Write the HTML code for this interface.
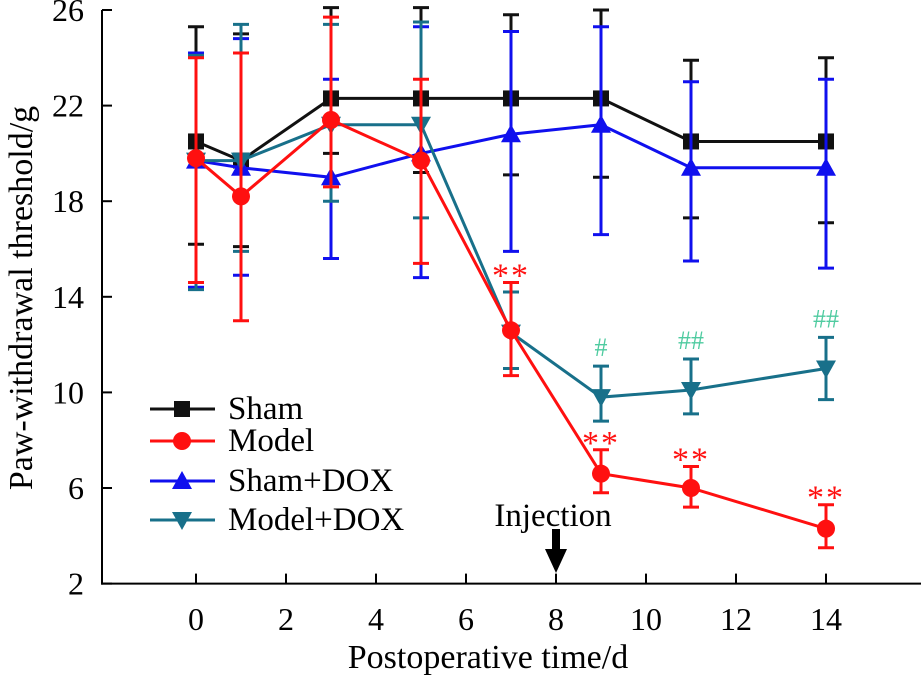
<!DOCTYPE html>
<html><head><meta charset="utf-8"><style>
body{margin:0;background:#fff}
svg{display:block;font-family:"Liberation Serif",serif}
</style></head><body>
<svg id="chart" width="921" height="676">
<g id="axes"></g><g id="series"></g><g id="legend"></g>
</svg>
<script>
const days=[0,1,3,5,7,9,11,14];
const yTicks=[2,6,10,14,18,22,26];
const xTicks=[0,2,4,6,8,10,12,14];
const shamVals=[20.5,19.7,22.3,22.3,22.3,22.3,20.5,20.5];
const shamHi=[25.3,25.0,26.1,26.1,25.8,26.0,23.9,24.0];
const shamLo=[16.2,16.1,20.0,19.2,19.1,19.0,17.3,17.1];
const modelVals=[19.8,18.2,21.4,19.7,12.6,6.6,6.0,4.3];
const modelHi=[24.0,24.2,25.7,23.1,14.6,7.6,6.9,5.3];
const modelLo=[14.6,13.0,18.6,15.4,10.7,5.8,5.2,3.5];
const shamDoxVals=[19.7,19.4,19.0,20.0,20.8,21.2,19.4,19.4];
const shamDoxHi=[24.2,24.8,23.1,25.3,25.1,25.3,23.0,23.1];
const shamDoxLo=[14.4,14.9,15.6,14.8,15.9,16.6,15.5,15.2];
const modelDoxVals=[19.7,19.7,21.2,21.2,12.5,9.8,10.1,11.0];
const modelDoxHi=[24.1,25.4,25.4,25.5,14.2,11.1,11.4,12.3];
const modelDoxLo=[14.3,15.9,18.0,17.3,11.0,8.8,9.1,9.7];

const NS="http://www.w3.org/2000/svg";
const X=t=>196+t*45;
const Y=v=>10+(26-v)*23.9;
function mk(tag,attrs,parent,text){const e=document.createElementNS(NS,tag);for(const k in attrs)e.setAttribute(k,attrs[k]);if(text!==undefined)e.textContent=text;parent.appendChild(e);return e;}
const axes=document.getElementById('axes'),ser=document.getElementById('series'),leg=document.getElementById('legend');

let a=mk('line',{x1:102,y1:Y(26),x2:102,y2:Y(2)+1,stroke:'#000','stroke-width':2},axes);

a=mk('line',{x1:101,y1:Y(2),x2:921,y2:Y(2),stroke:'#000','stroke-width':2},axes);

yTicks.forEach(v=>{
  let l=mk('line',{x1:102,y1:Y(v),x2:112,y2:Y(v),stroke:'#000','stroke-width':2},axes);
  
  let t=mk('text',{x:84,y:Y(v)+11,'text-anchor':'end','font-size':32},axes,String(v));
  
});
xTicks.forEach(v=>{
  let l=mk('line',{x1:X(v),y1:Y(2),x2:X(v),y2:Y(2)-10,stroke:'#000','stroke-width':2},axes);
  
  let t=mk('text',{x:X(v),y:630,'text-anchor':'middle','font-size':32},axes,String(v));
  
});
let yt=mk('text',{x:0,y:0,transform:'translate(32,298) rotate(-90)','text-anchor':'middle','font-size':34},axes,'Paw-withdrawal threshold/g');

let xt=mk('text',{x:488,y:668,'text-anchor':'middle','font-size':34},axes,'Postoperative time/d');


function marker(shape,cx,cy,color,g){
  if(shape==='sq')return mk('rect',{x:cx-8,y:cy-8,width:16,height:16,fill:color},g);
  if(shape==='ci')return mk('circle',{cx:cx,cy:cy,r:9,fill:color},g);
  if(shape==='up')return mk('polygon',{points:`${cx},${cy-10} ${cx-10},${cy+8} ${cx+10},${cy+8}`,fill:color},g);
  return mk('polygon',{points:`${cx},${cy+10} ${cx-10},${cy-8} ${cx+10},${cy-8}`,fill:color},g);
}
const seriesDefs=[
 {name:'sham',vals:shamVals,hi:shamHi,lo:shamLo,color:'#111',shape:'sq',label:'Sham'},
 {name:'sham-dox',vals:shamDoxVals,hi:shamDoxHi,lo:shamDoxLo,color:'#1010ee',shape:'up',label:'Sham+DOX'},
 {name:'model-dox',vals:modelDoxVals,hi:modelDoxHi,lo:modelDoxLo,color:'#18708a',shape:'dn',label:'Model+DOX'},
 {name:'model',vals:modelVals,hi:modelHi,lo:modelLo,color:'#ff1010',shape:'ci',label:'Model'}
];
seriesDefs.forEach(s=>{
  const g=mk('g',{},ser);
  
  s.vals.forEach((v,i)=>{
    const x=X(days[i]);
    const e=mk('path',{d:`M${x},${Y(s.hi[i])}V${Y(s.lo[i])}M${x-8},${Y(s.hi[i])}h16M${x-8},${Y(s.lo[i])}h16`,stroke:s.color,'stroke-width':3,fill:'none'},g);
    
  });
  const ln=mk('polyline',{points:s.vals.map((v,i)=>X(days[i])+','+Y(v)).join(' '),stroke:s.color,'stroke-width':3,fill:'none'},g);
  
  s.vals.forEach((v,i)=>{
    const m=marker(s.shape,X(days[i]),Y(v),s.color,g);
    
  });
});
const starIdx=[4,5,6,7];
starIdx.forEach(i=>{
  const t=mk('text',{x:X(days[i]),y:Y(modelHi[i])+4,'text-anchor':'middle','font-size':34,fill:'#ff1010','letter-spacing':'2'},ser,'**');
  
});
const hashIdx=[5,6,7];const hashTxt=['#','##','##'];
hashIdx.forEach((i,k)=>{
  const t=mk('text',{x:X(days[i]),y:Y(modelDoxHi[i])-10,'text-anchor':'middle','font-size':26,fill:'#4fcba0'},ser,hashTxt[k]);
  
});
let inj=mk('text',{x:553,y:526,'text-anchor':'middle','font-size':33},ser,'Injection');

let ar=mk('path',{d:`M552,529h8v20h7l-11,24l-11,-24h7z`,fill:'#000'},ser);

const legOrder=[0,3,1,2];const legY=[409,441,481,520];
legOrder.forEach((si,k)=>{
  const s=seriesDefs[si];const g=mk('g',{},leg);
  
  mk('line',{x1:150,y1:legY[k],x2:215,y2:legY[k],stroke:s.color,'stroke-width':3},g);
  marker(s.shape,182,legY[k],s.color,g);
  mk('text',{x:228,y:legY[k]+10,'font-size':33},g,s.label);
});
</script>
</body></html>
